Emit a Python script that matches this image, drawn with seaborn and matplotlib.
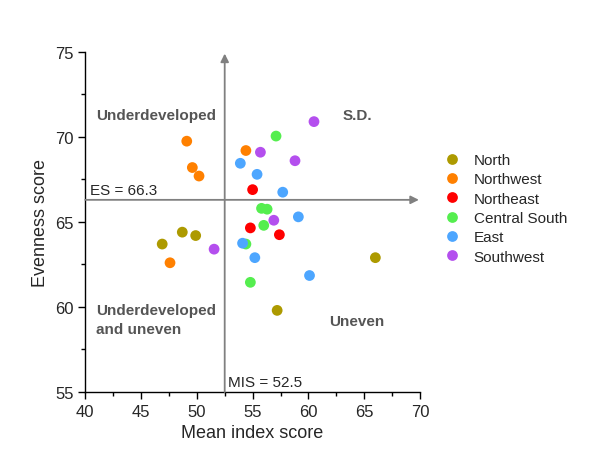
import pandas as pd
import numpy as np
import matplotlib
matplotlib.use('Agg')
import matplotlib.pyplot as plt
import seaborn as sns

# Region scores
regions = ['North', 'Northwest', 'Northeast', 'Central South', 'East', 'Southwest']
colors = ['#ad9a00', '#ff8000', '#ff0000', '#55ee4f', '#4da6ff', '#b44fee']

north_x = [46.9, 48.7, 49.9, 66.0, 57.2]
north_y = [63.7, 64.4, 64.2, 62.9, 59.8]
northwest_x = [49.1, 49.6, 50.2, 54.4, 47.6]
northwest_y = [69.75, 68.2, 67.7, 69.2, 62.6]
northeast_x = [55.0, 54.8, 57.4]
northeast_y = [66.9, 64.65, 64.25]
central_x = [57.1, 55.8, 56.3, 56.0, 54.4, 54.8]
central_y = [70.05, 65.8, 65.75, 64.8, 63.7, 61.45]
east_x = [53.9, 55.4, 57.7, 59.1, 54.1, 55.2, 60.1]
east_y = [68.45, 67.8, 66.75, 65.3, 63.75, 62.9, 61.85]
southwest_x = [60.5, 55.7, 58.8, 56.9, 51.55]
southwest_y = [70.9, 69.1, 68.6, 65.1, 63.4]

mis = 52.5
es = 66.3

xs = [north_x, northwest_x, northeast_x, central_x, east_x, southwest_x]
ys = [north_y, northwest_y, northeast_y, central_y, east_y, southwest_y]
df = pd.concat([pd.DataFrame({'x': x, 'y': y, 'region': r})
                for x, y, r in zip(xs, ys, regions)], ignore_index=True)

sns.set_style('white')
plt.rcParams['font.family'] = ['Liberation Sans', 'DejaVu Sans']

fig = plt.figure(figsize=(6, 4.64), dpi=100)
ax = fig.add_axes([0.142, 0.153, 0.558, 0.733])

# reference lines with arrows
ax.annotate('', xy=(mis, 74.9), xytext=(mis, 55),
            arrowprops=dict(arrowstyle='-|>', color='#808080', lw=1.3,
                            mutation_scale=12, shrinkA=0, shrinkB=0))
ax.annotate('', xy=(69.9, es), xytext=(40, es),
            arrowprops=dict(arrowstyle='-|>', color='#808080', lw=1.3,
                            mutation_scale=12, shrinkA=0, shrinkB=0))

sns.scatterplot(data=df, x='x', y='y', hue='region', hue_order=regions,
                palette=colors, s=60, edgecolor='none', ax=ax, zorder=3)

ax.set_xlim(40, 70)
ax.set_ylim(55, 75)
ax.set_xticks(np.arange(40, 71, 5))
ax.set_yticks(np.arange(55, 76, 5))
ax.set_xticks(np.arange(42.5, 70, 5), minor=True)
ax.set_yticks(np.arange(57.5, 75, 5), minor=True)
ax.tick_params(which='major', direction='out', length=5, width=1, labelsize=12,
               bottom=True, left=True, color='black')
ax.tick_params(which='minor', direction='out', length=3, width=1,
               bottom=True, left=True, color='black')
for s in ['top', 'right']:
    ax.spines[s].set_visible(False)
for s in ['left', 'bottom']:
    ax.spines[s].set_color('black')
    ax.spines[s].set_linewidth(1)

ax.set_xlabel('Mean index score', fontsize=13)
ax.set_ylabel('Evenness score', fontsize=13)

# quadrant labels
qc = '#555555'
ax.text(41.0, 71.3, 'Underdeveloped', fontsize=11, fontweight='bold', color=qc, ha='left', va='center')
ax.text(64.4, 71.3, 'S.D.', fontsize=11, fontweight='bold', color=qc, ha='center', va='center')
ax.text(41.0, 59.8, 'Underdeveloped', fontsize=11, fontweight='bold', color=qc, ha='left', va='center')
ax.text(41.0, 58.7, 'and uneven', fontsize=11, fontweight='bold', color=qc, ha='left', va='center')
ax.text(64.3, 59.2, 'Uneven', fontsize=11, fontweight='bold', color=qc, ha='center', va='center')
ax.text(40.4, 66.45, 'ES = 66.3', fontsize=11, ha='left', va='bottom')
ax.text(52.8, 55.2, 'MIS = 52.5', fontsize=11, ha='left', va='bottom')

leg = ax.legend(loc='center left', bbox_to_anchor=(1.01, 0.54), frameon=False,
                fontsize=11, handletextpad=0.4, labelspacing=0.35,
                markerscale=1.0)

fig.savefig('out.png', dpi=100)
